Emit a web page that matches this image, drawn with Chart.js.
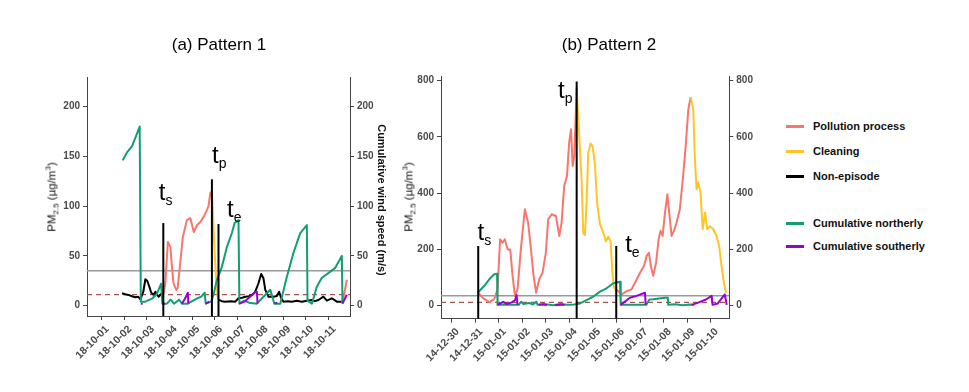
<!DOCTYPE html>
<html>
<head>
<meta charset="utf-8">
<script src="https://cdn.jsdelivr.net/npm/chart.js@4.4.1/dist/chart.umd.min.js"></script>
<style>
  body { margin: 0; background: #fff; width: 969px; height: 392px; position: relative; overflow: hidden;
         font-family: "Liberation Sans", Arial, sans-serif; }
  canvas { position: absolute; top: 0; }
  #c1 { left: 0; }
  #c2 { left: 392px; }
  .title { position: absolute; top: 36px; font-size: 17px; line-height: 17px; white-space: nowrap; transform: translateX(-50%); }
  .rot { position: absolute; white-space: nowrap; font-size: 11.5px; color: #111; }
  .rot.up { transform: translate(-50%, -50%) rotate(-90deg); }
  .rot.down { transform: translate(-50%, -50%) rotate(90deg); font-weight: bold; font-size: 11px; }
  .rot sub, .rot sup { font-size: 8px; }
  .leg { position: absolute; left: 786px; height: 14px; line-height: 14px; font-size: 11px; font-weight: bold; color: #111; white-space: nowrap; }
  .leg i { position: absolute; left: 0; top: 6px; width: 18px; height: 2.5px; }
  .leg span { position: absolute; left: 27px; top: 0; }
</style>
</head>
<body>
<canvas id="c1" width="400" height="392"></canvas>
<canvas id="c2" width="368" height="392"></canvas>

<div class="title" style="left:219px">(a) Pattern 1</div>
<div class="title" style="left:609px">(b) Pattern 2</div>
<div class="rot up" style="left:52px; top:197px">PM<sub>2.5</sub> (µg/m<sup>3</sup>)</div>
<div class="rot down" style="left:382px; top:200px">Cumulative wind speed (m/s)</div>
<div class="rot up" style="left:409px; top:197px">PM<sub>2.5</sub> (µg/m<sup>3</sup>)</div>
<div id="legend"></div>

<script>
// x values are days counted from the first tick label of each panel
const p1Days = ['18-10-01', '18-10-02', '18-10-03', '18-10-04', '18-10-05', '18-10-06',
                '18-10-07', '18-10-08', '18-10-09', '18-10-10', '18-10-11'];
const p2Days = ['14-12-30', '14-12-31', '15-01-01', '15-01-02', '15-01-03', '15-01-04',
                '15-01-05', '15-01-06', '15-01-07', '15-01-08', '15-01-09', '15-01-10'];
const p1YTicks = [0, 50, 100, 150, 200];
const p2YTicks = [0, 200, 400, 600, 800];

// Pattern 1 - PM2.5 by phase
const p1NonEpisode = [[0.91, 12.5], [1.05, 11.5], [1.2, 10.8], [1.35, 9.5], [1.5, 8.4], [1.62, 9], [1.72, 6.4],
  [1.85, 14], [1.94, 26.5], [2.02, 25], [2.1, 20], [2.2, 13], [2.3, 11], [2.38, 14], [2.52, 9], [2.67, 12.5], [2.73, 11],
  null,
  [5.16, 6], [5.3, 4.5], [5.46, 4], [5.7, 4.5], [5.9, 4], [6.04, 7.4], [6.2, 8], [6.34, 9], [6.5, 9.5], [6.63, 10.8],
  [6.78, 14], [6.92, 22.5], [7.04, 31.8], [7.14, 27.5], [7.22, 15.8], [7.36, 9], [7.58, 9], [7.73, 9.7], [7.83, 14],
  [7.92, 7.4], [8.02, 4], [8.2, 4.5], [8.39, 4], [8.6, 5], [8.83, 4], [9.05, 5], [9.27, 5.7], [9.4, 4.5], [9.56, 5.7],
  [9.78, 9], [9.93, 5], [10.15, 7.4], [10.37, 4], [10.59, 4]];
const p1Pollution = [[2.73, 11], [2.82, 22.5], [2.93, 64], [3.04, 59], [3.11, 39], [3.18, 22.5], [3.3, 15.8], [3.36, 17.5],
  [3.48, 44], [3.59, 69], [3.77, 86], [3.92, 88], [4.07, 74], [4.22, 81], [4.36, 84], [4.5, 89], [4.65, 96], [4.72, 100],
  [4.8, 113], [4.87, 115],
  null,
  [10.59, 4], [10.66, 8], [10.73, 16], [10.81, 26]];
const p1Cleaning = [[4.87, 115], [4.93, 85], [4.99, 53], [5.07, 22], [5.12, 10], [5.16, 6]];

// Pattern 1 - cumulative wind
const p1North = [[0.94, 146], [1.13, 154], [1.35, 160], [1.57, 173], [1.69, 180], [1.74, 4], [1.94, 4], [2.23, 7],
  [2.45, 12], [2.63, 22], [2.69, 2], [2.89, 2], [3.05, 6], [3.2, 2], [3.42, 6], [3.55, 2], [3.81, 2], [3.96, 4],
  [4.2, 7], [4.4, 9], [4.55, 13], [4.6, 2], [4.84, 4], [4.95, 12], [5.09, 26], [5.31, 39], [5.53, 59], [5.75, 73],
  [5.87, 83], [6.04, 86], [6.08, 2], [6.3, 5], [6.5, 3], [6.85, 2], [7.14, 9], [7.44, 16], [7.62, 2], [7.88, 2],
  [8.17, 29], [8.46, 53], [8.76, 73], [9.05, 81], [9.08, 5], [9.27, 2], [9.49, 19], [9.71, 28], [10.07, 34],
  [10.3, 38], [10.59, 50], [10.62, 2]];
const p1South = [[1.74, 2], [1.82, 2], null, [2.69, 2], [2.8, 2], null, [3.55, 2], [3.68, 7], [3.81, 13], [3.83, 2],
  null, [4.6, 2], [4.75, 4], null, [6.08, 2], [6.3, 4], [6.55, 9], [6.8, 14], [6.85, 14], [6.88, 2], null,
  [7.62, 2], [7.75, 3], null, [10.62, 2], [10.81, 11]];

// Pattern 1 - thresholds and episode markers
const p1Solid = 35;
const p1Dashed = 11;
const p1EventDays = [2.73, 4.87, 5.16];
const p1EventTops = [83, 127, 82];
const p1EventSubs = ['s', 'p', 'e'];
const p1LabelDays = [2.68, 5.02, 5.68];
const p1LabelVals = [106, 143, 89];

// Pattern 2 - PM2.5 by phase
const p2Pollution = [[1.13, 46], [1.32, 28], [1.6, 13], [1.81, 23], [1.95, 58], [2.06, 236], [2.16, 224], [2.26, 236],
  [2.38, 200], [2.49, 200], [2.59, 106], [2.69, 34], [2.8, 58], [2.94, 200], [3.11, 343], [3.25, 295], [3.37, 200],
  [3.48, 106], [3.59, 46], [3.72, 94], [3.86, 117], [4.0, 188], [4.1, 307], [4.25, 325], [4.43, 319], [4.57, 248],
  [4.67, 295], [4.78, 426], [4.9, 461], [4.99, 580], [5.07, 627], [5.14, 497], [5.21, 532], [5.31, 775],
  null,
  [6.99, 58], [7.22, 40], [7.43, 52], [7.64, 58], [7.86, 94], [8.0, 117], [8.17, 141], [8.28, 177], [8.38, 188],
  [8.46, 141], [8.56, 106], [8.68, 153], [8.79, 236], [8.87, 266], [8.96, 248], [9.06, 331], [9.16, 396], [9.24, 331],
  [9.34, 248], [9.44, 266], [9.55, 295], [9.69, 343], [9.83, 461], [9.95, 580], [10.05, 698], [10.15, 742]];
const p2Cleaning = [[5.31, 775], [5.42, 601], [5.52, 447], [5.59, 257], [5.66, 251], [5.73, 364], [5.8, 544],
  [5.9, 577], [5.99, 565], [6.08, 508], [6.18, 364], [6.3, 290], [6.44, 260], [6.55, 228], [6.65, 245], [6.75, 228],
  [6.82, 127], [6.89, 68], [6.99, 50],
  null,
  [10.15, 742], [10.26, 698], [10.33, 520], [10.4, 414], [10.47, 437], [10.57, 402], [10.66, 272], [10.76, 331],
  [10.85, 272], [10.97, 283], [11.11, 272], [11.25, 248], [11.36, 212], [11.46, 141], [11.56, 82], [11.65, 46]];

// Pattern 2 - cumulative wind
const p2North = [[1.1, 45], [1.38, 70], [1.6, 94], [1.81, 112], [1.93, 114], [1.95, 3], [2.85, 3], [2.95, 14],
  [3.05, 6], [3.3, 10], [3.45, 4], [3.6, 14], [3.65, 3], [4.0, 5], [4.3, 2], [4.6, 6], [4.9, 3], [5.2, 4], [5.45, 8],
  [5.73, 20], [6.01, 32], [6.3, 50], [6.58, 62], [6.86, 80], [7.15, 85], [7.18, 3], [8.26, 3], [8.4, 22], [8.56, 23],
  [9.06, 28], [9.18, 28], [9.2, 3], [9.5, 5], [9.8, 2], [10.1, 4], [10.3, 3]];
const p2South = [[1.95, 3], [2.19, 14], [2.35, 6], [2.55, 12], [2.7, 20], [2.76, 38], [2.8, 3], null,
  [3.7, 3], [3.9, 5], [4.05, 2], null, [4.4, 2], [4.7, 4], [4.8, 2], null,
  [7.18, 3], [7.57, 28], [7.85, 35], [8.21, 46], [8.24, 3], null,
  [10.2, 3], [10.47, 11], [10.8, 22], [11.04, 35], [11.08, 3], [11.3, 8], [11.6, 40], [11.68, 3]];

const p2Solid = 35;
const p2Dashed = 12;
const p2EventDays = [1.13, 5.31, 6.99];
const p2EventTops = [212, 797, 212];
const p2EventSubs = ['s', 'p', 'e'];
const p2LabelDays = [1.24, 4.66, 7.51];
const p2LabelVals = [233, 738, 191];

const colPollution = '#F8766D';
const colCleaning = '#FFC425';
const colNon = '#000000';
const colNorth = '#119E73';
const colSouth = '#9900D6';

const legendItems = [
  ['Pollution process', colPollution, 126],
  ['Cleaning', colCleaning, 151],
  ['Non-episode', colNon, 176],
  ['Cumulative northerly', colNorth, 223],
  ['Cumulative southerly', colSouth, 246]
];
document.getElementById('legend').innerHTML = legendItems.map(l =>
  `<div class="leg" style="top:${l[2] - 7}px"><i style="background:${l[1]}"></i><span>${l[0]}</span></div>`).join('');

function pts(arr) {
  let last = 0;
  return arr.map(p => {
    if (p) { last = p[0]; return { x: p[0], y: p[1] }; }
    return { x: last, y: null };
  });
}

function line(arr, color, axis, width, order, dash) {
  return {
    data: pts(arr), borderColor: color, borderWidth: width, yAxisID: axis, order: order,
    pointRadius: 0, tension: 0, fill: false, spanGaps: false, borderDash: dash || [],
    borderJoinStyle: 'round'
  };
}

// draws the t_s / t_p / t_e labels at data positions
const eventLabels = {
  id: 'eventLabels',
  afterDatasetsDraw(chart, args, opts) {
    const { ctx, scales } = chart;
    ctx.save();
    ctx.fillStyle = '#000';
    opts.days.forEach((d, i) => {
      const px = scales.x.getPixelForValue(d);
      const py = scales.y.getPixelForValue(opts.vals[i]);
      ctx.font = '24px "Liberation Sans", Arial, sans-serif';
      ctx.textAlign = 'center';
      ctx.textBaseline = 'alphabetic';
      ctx.fillText('t', px, py);
      const w = ctx.measureText('t').width;
      ctx.font = '14px "Liberation Sans", Arial, sans-serif';
      ctx.textAlign = 'left';
      ctx.fillText(opts.subs[i], px + w / 2, py + 5);
    });
    ctx.restore();
  }
};

function makePanel(id, p) {
  const datasets = [];
  p.eventDays.forEach((d, i) => {
    datasets.push(line([[d, p.yMin], [d, p.eventTops[i]]], '#000', 'y', 2, 0));
  });
  datasets.push(line(p.south, colSouth, 'y2', 2, 1));
  datasets.push(line(p.north, colNorth, 'y2', 2, 2));
  datasets.push(line(p.cleaning, colCleaning, 'y', 2, 3));
  datasets.push(line(p.pollution, colPollution, 'y', 2, 4));
  if (p.non) datasets.push(line(p.non, colNon, 'y', 2, 5));
  datasets.push(line([[p.xMin, p.solid], [p.xMax, p.solid]], '#9a9a9a', 'y', 1.5, 6));
  datasets.push(line([[p.xMin, p.dashed], [p.xMax, p.dashed]], '#a8524f', 'y', 1.2, 7, [5, 4]));

  const tickFont = { family: '"Liberation Sans", Arial, sans-serif', size: 10, weight: 'bold' };
  const yScale = (pos, width) => ({
    type: 'linear', position: pos, min: p.yMin, max: p.yMax,
    afterBuildTicks: s => { s.ticks = p.yTicks.map(v => ({ value: v })); },
    afterFit: s => { s.width = width; },
    ticks: { font: tickFont, color: '#4a4a4a', padding: 3 },
    grid: { drawOnChartArea: false, drawTicks: true, tickLength: 4, color: '#444' },
    border: { display: true, color: '#444', width: 1 }
  });

  return new Chart(document.getElementById(id), {
    type: 'line',
    data: { datasets: datasets },
    options: {
      responsive: false,
      animation: false,
      devicePixelRatio: 1,
      layout: { padding: { top: p.top, left: 0, right: 0, bottom: 0 } },
      plugins: {
        legend: { display: false },
        tooltip: { enabled: false },
        eventLabels: { days: p.labelDays, vals: p.labelVals, subs: p.eventSubs }
      },
      scales: {
        x: {
          type: 'linear', min: p.xMin, max: p.xMax,
          afterBuildTicks: s => { s.ticks = p.dates.map((_, i) => ({ value: i })); },
          afterFit: s => { s.height = p.xHeight; },
          ticks: {
            callback: (v, i) => p.dates[i], autoSkip: false, minRotation: 45, maxRotation: 45,
            font: { family: '"Liberation Sans", Arial, sans-serif', size: 10.5, weight: 'bold' },
            color: '#4a4a4a', padding: 3, labelOffset: 6
          },
          grid: { drawOnChartArea: false, drawTicks: true, tickLength: 4, color: '#444' },
          border: { display: true, color: '#444', width: 1 }
        },
        y: yScale('left', p.leftW),
        y2: yScale('right', p.rightW)
      }
    },
    plugins: [eventLabels]
  });
}

makePanel('c1', {
  dates: p1Days, yTicks: p1YTicks, xMin: -0.63, xMax: 10.95, yMin: -10.4, yMax: 229.8,
  top: 77, leftW: 87, rightW: 50, xHeight: 76,
  non: p1NonEpisode, pollution: p1Pollution, cleaning: p1Cleaning, north: p1North, south: p1South,
  solid: p1Solid, dashed: p1Dashed, eventDays: p1EventDays, eventTops: p1EventTops, eventSubs: p1EventSubs,
  labelDays: p1LabelDays, labelVals: p1LabelVals
});

makePanel('c2', {
  dates: p2Days, yTicks: p2YTicks, xMin: -0.45, xMax: 11.79, yMin: -46.2, yMax: 816.7,
  top: 76, leftW: 49, rightW: 30.7, xHeight: 73.3,
  non: null, pollution: p2Pollution, cleaning: p2Cleaning, north: p2North, south: p2South,
  solid: p2Solid, dashed: p2Dashed, eventDays: p2EventDays, eventTops: p2EventTops, eventSubs: p2EventSubs,
  labelDays: p2LabelDays, labelVals: p2LabelVals
});
</script>
</body>
</html>
